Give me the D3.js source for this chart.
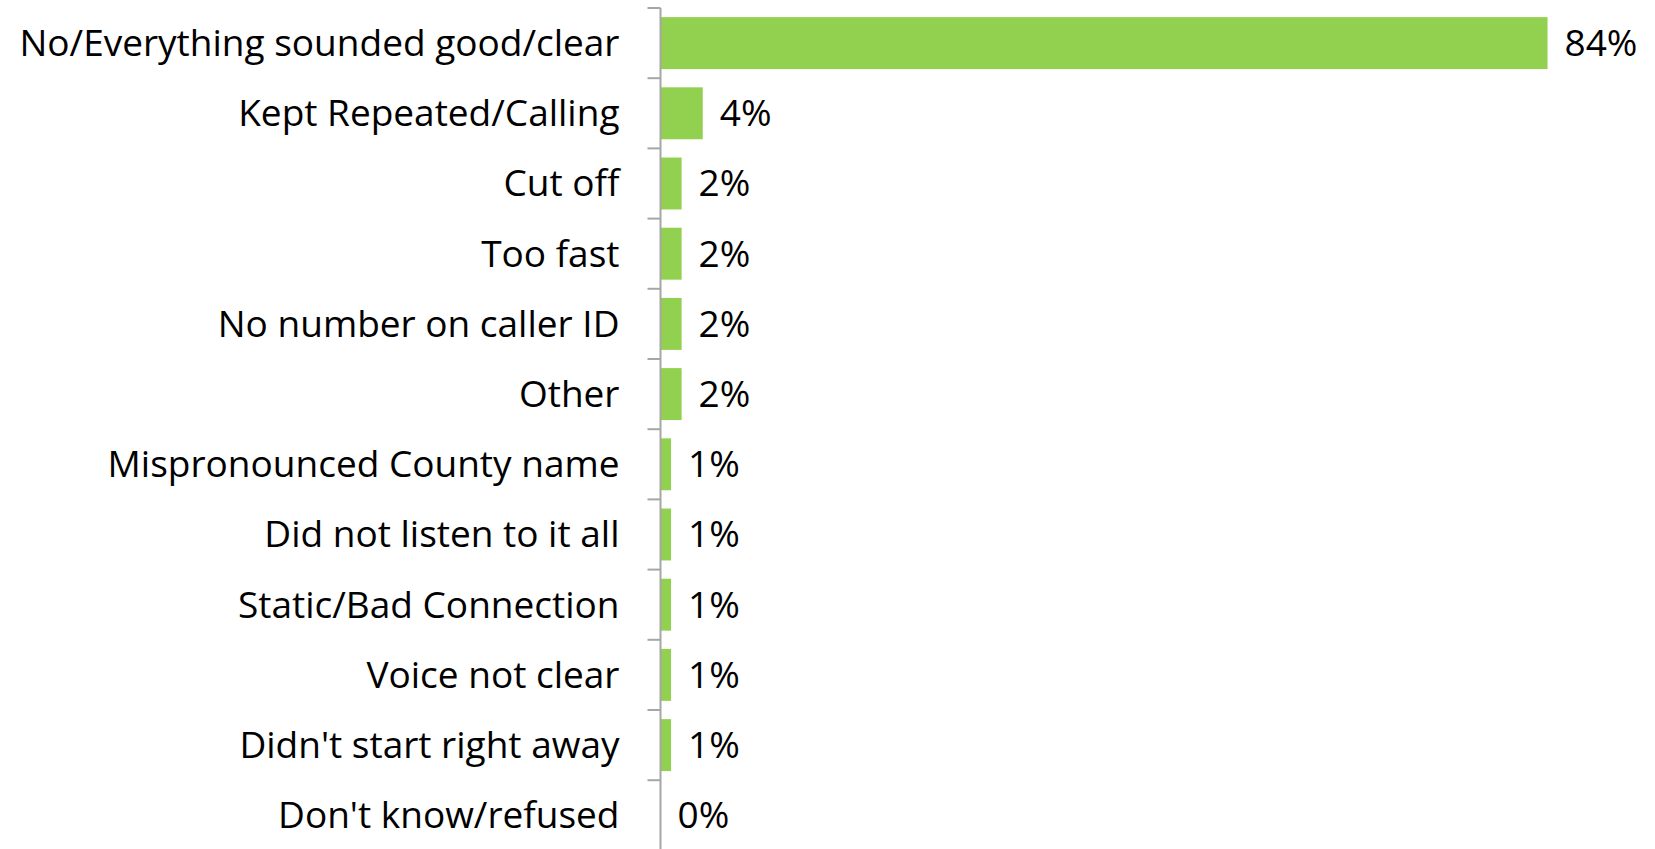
<!DOCTYPE html>
<html>
<head>
<meta charset="utf-8">
<script src="https://cdn.jsdelivr.net/npm/d3@7"></script>
<style>
  html, body { margin: 0; padding: 0; background: #fff; }
  svg { display: block; }
  text { font-family: "Open Sans", Lato, sans-serif; fill: #000; font-variant-ligatures: none; }
</style>
</head>
<body>
<svg id="chart" width="1655" height="849"></svg>
<script>
// Responses to: "Was there anything wrong with the message?"
const categories = [
  "No/Everything sounded good/clear",
  "Kept Repeated/Calling",
  "Cut off",
  "Too fast",
  "No number on caller ID",
  "Other",
  "Mispronounced County name",
  "Did not listen to it all",
  "Static/Bad Connection",
  "Voice not clear",
  "Didn't start right away",
  "Don't know/refused"
];
const values = [84, 4, 2, 2, 2, 2, 1, 1, 1, 1, 1, 0];
const valueLabels = ["84%", "4%", "2%", "2%", "2%", "2%", "1%", "1%", "1%", "1%", "1%", "0%"];

const svg = d3.select("#chart");
const axisX = 660.5;
const plotTop = 8;

const x = d3.scaleLinear().domain([0, 100]).range([axisX, axisX + 1056]);
const y = d3.scaleBand().domain(categories).range([plotTop, 850.4]).paddingInner(0.26).paddingOuter(0.13);

const fontSize = 37;

// bars
svg.append("g").selectAll("rect")
  .data(categories)
  .join("rect")
  .attr("x", x(0))
  .attr("y", d => y(d))
  .attr("width", (d, i) => x(values[i]) - x(0))
  .attr("height", y.bandwidth())
  .attr("fill", "#92D050");

// value labels
svg.append("g").selectAll("text")
  .data(categories)
  .join("text")
  .attr("x", (d, i) => x(values[i]) + 17)
  .attr("y", d => y(d) + y.bandwidth() / 2)
  .attr("dy", "0.35em")
  .attr("font-size", fontSize)
  .text((d, i) => valueLabels[i]);

// category axis with outward ticks on band boundaries
const step = y.step();
const axisG = svg.append("g");
axisG.append("line")
  .attr("x1", axisX).attr("x2", axisX)
  .attr("y1", plotTop).attr("y2", 849)
  .attr("stroke", "#A6A6A6").attr("stroke-width", 2);
axisG.selectAll("line.tick")
  .data(d3.range(categories.length))
  .join("line")
  .attr("class", "tick")
  .attr("x1", axisX - 13).attr("x2", axisX)
  .attr("y1", i => plotTop + i * step).attr("y2", i => plotTop + i * step)
  .attr("stroke", "#A6A6A6").attr("stroke-width", 2);

axisG.selectAll("text")
  .data(categories)
  .join("text")
  .attr("x", axisX - 41)
  .attr("y", d => y(d) + y.bandwidth() / 2)
  .attr("dy", "0.35em")
  .attr("text-anchor", "end")
  .attr("font-size", fontSize)
  .text(d => d);
</script>
</body>
</html>
